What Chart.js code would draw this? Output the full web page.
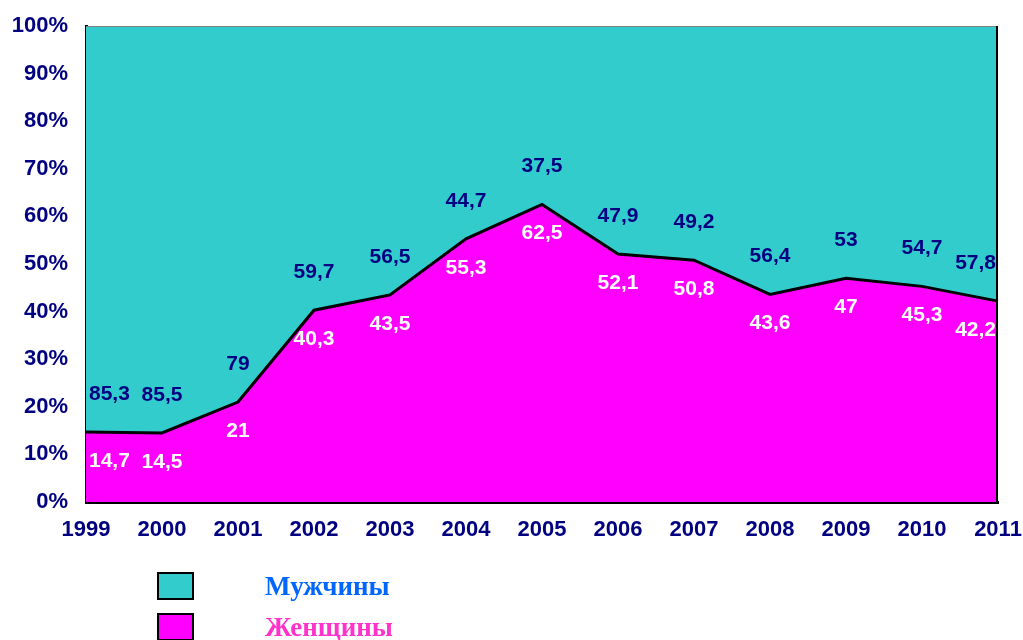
<!DOCTYPE html>
<html lang="ru">
<head>
    <meta charset="UTF-8">
    <title>Мужчины и женщины, 1999-2011</title>
    <script src="https://cdn.jsdelivr.net/npm/chart.js"></script>
    <style>
        body { margin: 0; background: #fff; }
        .wrap { position: relative; width: 1023px; height: 640px; }
        .legend-item { position: absolute; left: 157px; display: flex; align-items: center; }
        .legend-box { width: 33px; height: 24px; border: 2px solid #000; }
        .legend-text { position: absolute; left: 108px; white-space: nowrap;
            font: bold 27px "Liberation Serif", "DejaVu Serif", serif; }
    </style>
</head>
<body>
<div class="wrap">
    <canvas id="shareChart" width="1023" height="640"></canvas>

    <!-- Legend -->
    <div class="legend-item" style="top:572px">
        <div class="legend-box" style="background:#33CCCC"></div>
        <span class="legend-text" style="color:#0066FF">Мужчины</span>
    </div>
    <div class="legend-item" style="top:613px">
        <div class="legend-box" style="background:#FF00FF"></div>
        <span class="legend-text" style="color:#FF33CC">Женщины</span>
    </div>
</div>

<script>
// data
const years = ['1999', '2000', '2001', '2002', '2003', '2004', '2005', '2006', '2007', '2008', '2009', '2010', '2011'];
const women = [14.7, 14.5, 21, 40.3, 43.5, 55.3, 62.5, 52.1, 50.8, 43.6, 47, 45.3, 42.2];
const men = [85.3, 85.5, 79, 59.7, 56.5, 44.7, 37.5, 47.9, 49.2, 56.4, 53, 54.7, 57.8];

const navy = '#000080';
const tickFont = { family: 'Liberation Sans, Arial, sans-serif', size: 22, weight: 'bold' };

function fmt(v) {
    return String(v).replace('.', ',');
}

// value labels + frame edges
const labelPlugin = {
    id: 'valueLabels',
    afterDatasetsDraw(chart) {
        const ctx = chart.ctx;
        const area = chart.chartArea;
        const xs = chart.scales.x;
        const ys = chart.scales.y;

        ctx.save();
        // top edge (thin grey) and right edge (black)
        ctx.strokeStyle = '#808080';
        ctx.lineWidth = 1;
        ctx.beginPath();
        ctx.moveTo(area.left, area.top + 0.5);
        ctx.lineTo(area.right, area.top + 0.5);
        ctx.stroke();
        ctx.strokeStyle = '#000';
        ctx.lineWidth = 2;
        ctx.beginPath();
        ctx.moveTo(area.right - 1, area.top);
        ctx.lineTo(area.right - 1, area.bottom);
        ctx.stroke();

        ctx.font = 'bold 21px "Liberation Sans", Arial, sans-serif';
        ctx.textAlign = 'center';
        ctx.textBaseline = 'middle';
        years.forEach((y, i) => {
            const lineY = ys.getPixelForValue(women[i]);
            let x = xs.getPixelForValue(i);

            const wText = fmt(women[i]);
            const mText = fmt(men[i]);
            const half = Math.max(ctx.measureText(wText).width, ctx.measureText(mText).width) / 2;
            x = Math.min(Math.max(x, area.left + half + 3), area.right - half - 2);

            ctx.fillStyle = '#fff';
            ctx.fillText(wText, x, lineY + 29);
            ctx.fillStyle = navy;
            ctx.fillText(mText, x, lineY - 38);
        });
        ctx.restore();
    }
};

const ctx = document.getElementById('shareChart').getContext('2d');
new Chart(ctx, {
    type: 'line',
    data: {
        labels: years,
        datasets: [
            {
                label: 'Женщины',
                data: women,
                backgroundColor: '#FF00FF',
                borderColor: '#000',
                borderWidth: 3,
                fill: 'origin',
                pointRadius: 0,
                tension: 0
            },
            {
                label: 'Мужчины',
                data: men,
                backgroundColor: '#33CCCC',
                borderColor: 'rgba(0,0,0,0)',
                borderWidth: 0,
                fill: '-1',
                pointRadius: 0,
                tension: 0
            }
        ]
    },
    options: {
        responsive: false,
        animation: false,
        layout: { padding: { top: 26, right: 25, left: 0, bottom: 0 } },
        plugins: {
            legend: { display: false },
            tooltip: { enabled: false }
        },
        scales: {
            x: {
                offset: false,
                grid: { display: false, drawTicks: true, tickLength: 7, tickColor: '#000', tickWidth: 2 },
                border: { color: '#000', width: 3 },
                ticks: { color: navy, font: tickFont, padding: 8, maxRotation: 0, autoSkip: false },
                afterFit(scale) {
                    scale.height = 138;
                    scale.paddingLeft = 0;
                    scale.paddingRight = 0;
                }
            },
            y: {
                stacked: true,
                min: 0,
                max: 100,
                grid: { display: false, drawTicks: true, tickLength: 8, tickColor: '#000', tickWidth: 2 },
                border: { color: '#000', width: 3 },
                ticks: {
                    stepSize: 10,
                    color: navy,
                    font: tickFont,
                    padding: 10,
                    callback: v => v + '%'
                },
                afterFit(scale) {
                    scale.width = 86;
                    scale.paddingTop = 0;
                    scale.paddingBottom = 0;
                }
            }
        }
    },
    plugins: [labelPlugin]
});
</script>
</body>
</html>
